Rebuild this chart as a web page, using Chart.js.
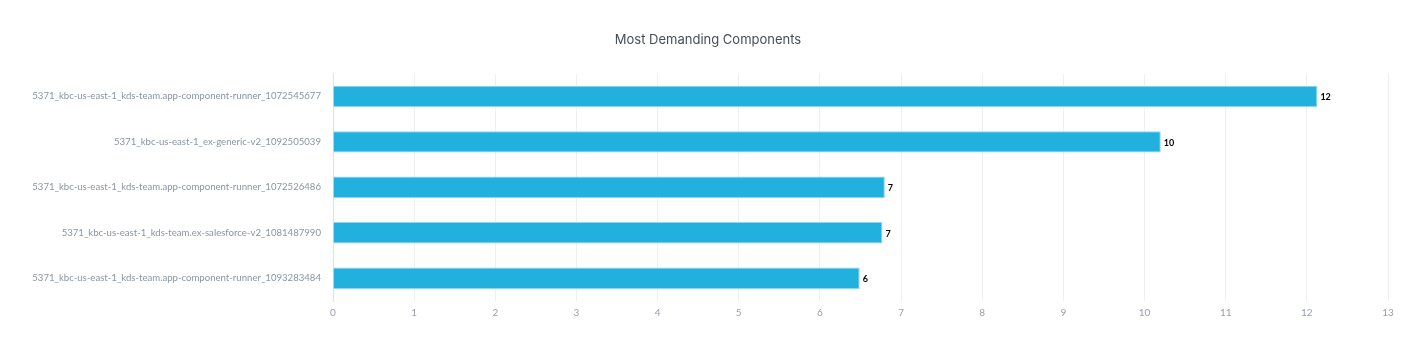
<!DOCTYPE html>
<html>
<head>
<meta charset="utf-8">
<title>Most Demanding Components</title>
<script src="https://cdn.jsdelivr.net/npm/chart.js@4/dist/chart.umd.min.js"></script>
<style>
  html, body { margin: 0; padding: 0; background: #fff; }
  #wrap { width: 1416px; height: 342px; }
</style>
</head>
<body>
<div id="wrap"><canvas id="jobsChart"></canvas></div>
<script>
// component names and how many jobs each ran
const components = [
  "5371_kbc-us-east-1_kds-team.app-component-runner_1072545677",
  "5371_kbc-us-east-1_ex-generic-v2_1092505039",
  "5371_kbc-us-east-1_kds-team.app-component-runner_1072526486",
  "5371_kbc-us-east-1_kds-team.ex-salesforce-v2_1081487990",
  "5371_kbc-us-east-1_kds-team.app-component-runner_1093283484"
];
const jobCounts = [12.13, 10.2, 6.8, 6.77, 6.49];
const xTicks = [0, 1, 2, 3, 4, 5, 6, 7, 8, 9, 10, 11, 12, 13];

const barColor = "#22b0de";
const labelFont = "Lato, 'Open Sans', sans-serif";

// little plugin: writes the rounded value right after each bar end
const valueLabels = {
  id: "valueLabels",
  afterDatasetsDraw(chart) {
    const ctx = chart.ctx;
    const meta = chart.getDatasetMeta(0);
    ctx.save();
    ctx.font = "bold 9px " + labelFont;
    ctx.fillStyle = "#000";
    ctx.textAlign = "left";
    ctx.textBaseline = "middle";
    meta.data.forEach((bar, i) => {
      ctx.fillText(Math.round(jobCounts[i]), bar.x + 3, bar.y + 1);
    });
    ctx.restore();
  }
};

new Chart(document.getElementById("jobsChart"), {
  type: "bar",
  data: {
    labels: components,
    datasets: [{
      data: jobCounts,
      backgroundColor: barColor,
      borderColor: "#8fd6ef",
      borderWidth: 1,
      barPercentage: 0.47,
      categoryPercentage: 1
    }]
  },
  options: {
    indexAxis: "y",
    responsive: true,
    maintainAspectRatio: false,
    animation: false,
    layout: { padding: { left: 0, right: 0, top: 0, bottom: 17 } },
    plugins: {
      legend: { display: false },
      tooltip: { enabled: false },
      title: {
        display: true,
        text: "Most Demanding Components",
        color: "#464e5a",
        font: { family: "Inter, sans-serif", size: 13, weight: "normal" },
        padding: { top: 32, bottom: 26 }
      }
    },
    scales: {
      x: {
        min: 0,
        max: 13,
        afterBuildTicks(scale) {
          scale.ticks = xTicks.map(v => ({ value: v }));
        },
        // keep a gap on the right without shifting the title off centre
        afterFit(scale) { scale.paddingRight = 28; },
        grid: { color: "#efefef", drawTicks: false },
        border: { display: false },
        ticks: {
          color: "#98a0ad",
          padding: 6,
          font: { family: labelFont, size: 10 }
        }
      },
      y: {
        afterFit(scale) { scale.width = 333; },
        grid: { display: false, drawTicks: false },
        border: { display: true, color: "#dde2ea", width: 1 },
        ticks: {
          color: "#8a94a4",
          padding: 12,
          font: { family: labelFont, size: 9.6 }
        }
      }
    }
  },
  plugins: [valueLabels]
});
</script>
</body>
</html>
